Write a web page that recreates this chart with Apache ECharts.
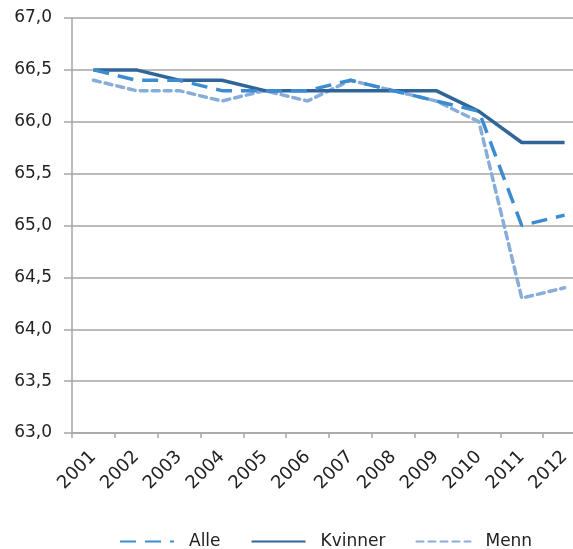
<!DOCTYPE html>
<html>
<head>
<meta charset="utf-8">
<script src="https://cdn.jsdelivr.net/npm/echarts@6/dist/echarts.min.js"></script>
<style>html,body{margin:0;padding:0;background:#fff;overflow:hidden;width:573px;height:549px}#c{width:586px;height:549px}</style>
</head>
<body>
<div id="c"></div>
<script>
var years = ['2001','2002','2003','2004','2005','2006','2007','2008','2009','2010','2011','2012'];
var alle = [66.5, 66.4, 66.4, 66.3, 66.3, 66.3, 66.4, 66.3, 66.2, 66.1, 65.0, 65.1];
var kvinner = [66.5, 66.5, 66.4, 66.4, 66.3, 66.3, 66.3, 66.3, 66.3, 66.1, 65.8, 65.8];
var menn = [66.4, 66.3, 66.3, 66.2, 66.3, 66.2, 66.4, 66.3, 66.2, 66.0, 64.3, 64.4];

var FONT = '"DejaVu Sans", sans-serif';
var chart = echarts.init(document.getElementById('c'), null, {renderer: 'canvas'});
chart.setOption({
  animation: false,
  grid: {left: 72, right: 0, top: 18, height: 415, containLabel: false},
  legend: {
    top: 533,
    left: 119,
    padding: 0,
    itemWidth: 54,
    itemHeight: 14,
    itemGap: 30,
    itemStyle: {opacity: 0},
    textStyle: {fontFamily: FONT, fontSize: 17, color: '#222', padding: [0, 0, 0, 10]},
    data: ['Alle', 'Kvinner', 'Menn']
  },
  xAxis: {
    type: 'category',
    data: years,
    boundaryGap: true,
    axisLine: {lineStyle: {color: '#A6A6A6', width: 1.5}},
    axisTick: {show: true, length: 5, lineStyle: {color: '#A6A6A6', width: 1.5}},
    axisLabel: {rotate: 45, fontFamily: FONT, fontSize: 18, color: '#222', margin: 21, interval: 0}
  },
  yAxis: {
    type: 'value',
    min: 63, max: 67, interval: 0.5,
    axisLine: {show: true, lineStyle: {color: '#A6A6A6', width: 1.5}},
    axisTick: {show: true, length: 8, lineStyle: {color: '#A6A6A6', width: 1.5}},
    splitLine: {lineStyle: {color: '#A6A6A6', width: 1.5}},
    axisLabel: {fontFamily: FONT, fontSize: 17, color: '#222', margin: 20,
      formatter: function (v) { return v.toFixed(1).replace('.', ','); }}
  },
  series: [
    {name: 'Alle', type: 'line', data: alle, symbol: 'none', z: 3,
      itemStyle: {color: '#3D8BD1'},
      lineStyle: {color: '#3D8BD1', width: 3.5, type: [16, 9], cap: 'butt'}},
    {name: 'Kvinner', type: 'line', data: kvinner, symbol: 'none', z: 2,
      itemStyle: {color: '#2F6598'},
      lineStyle: {color: '#2F6598', width: 3.5, type: 'solid'}},
    {name: 'Menn', type: 'line', data: menn, symbol: 'none', z: 1,
      itemStyle: {color: '#88ADD9'},
      lineStyle: {color: '#88ADD9', width: 3.5, type: [7, 5], cap: 'round'}}
  ]
});
</script>
</body>
</html>
